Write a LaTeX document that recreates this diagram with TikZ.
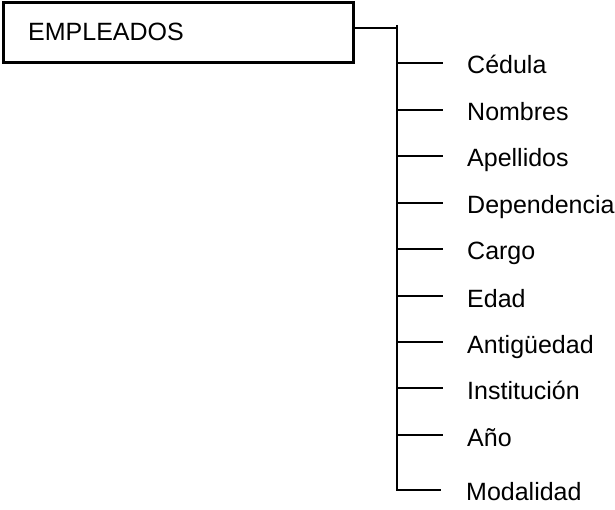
\documentclass[tikz,border=0pt]{standalone}
\usepackage{fontspec}
\setmainfont{Liberation Sans}
\begin{document}
\begin{tikzpicture}[x=1pt,y=1pt,
  conn/.style={line width=1.7pt},
  lbl/.style={anchor=base west,inner sep=0pt,font=\fontsize{25}{29}\selectfont},
  entbox/.style={draw,line width=3pt,minimum width=350pt,minimum height=60pt,inner sep=0pt}]
\useasboundingbox (0,0) rectangle (615,-510);
\node[entbox] (emp) at (178,-33) {};
\node[lbl] (empt) at (28,-41) {EMPLEADOS};
\coordinate (eo) at (353.5,-28);
\coordinate (ej) at (397,-28);
\coordinate (top) at (397,-25);
\foreach \n/\y/\t in {1/63/Cédula,2/110/Nombres,3/156/Apellidos,4/203/Dependencia,5/249/Cargo,6/296/Edad,7/342/Antigüedad,8/388/Institución,9/435/Año}{
  \coordinate (j\n) at (397,-\y);
  \coordinate (e\n) at (443,-\y);
  \node[lbl] (l\n) at (467,-\y-11) {\t};
  \draw[conn] (j\n) -- (e\n);
}
\coordinate (j10) at (397,-490);
\coordinate (e10) at (441,-490);
\node[lbl] (l10) at (466,-500) {Modalidad};
\draw[conn] (eo) -- (ej);
\draw[conn] (top) -- (j10) -- (e10);
\end{tikzpicture}
\end{document}
